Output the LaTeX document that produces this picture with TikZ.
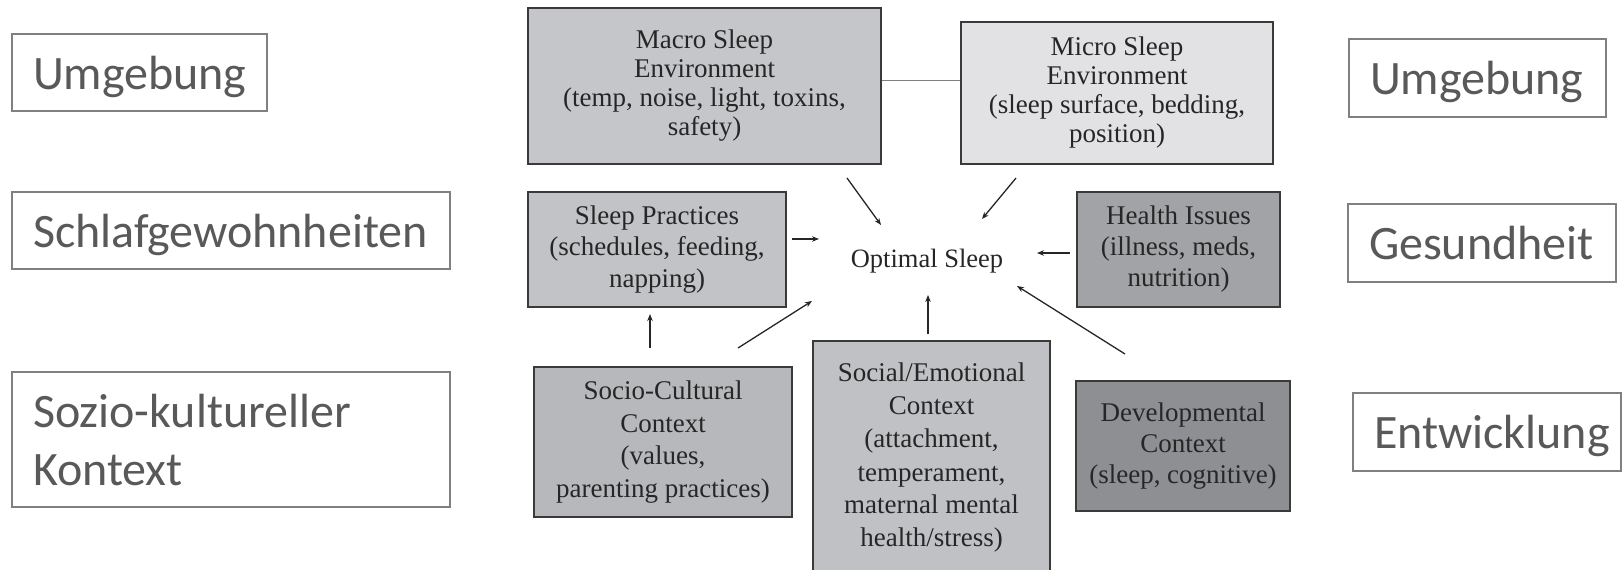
\documentclass[tikz,border=0pt]{standalone}
\usepackage{fontspec}
\setmainfont{Liberation Serif}
\newfontfamily\calib{Carlito}
\usetikzlibrary{arrows.meta}
\definecolor{macrofill}{HTML}{C5C6C9}
\definecolor{microfill}{HTML}{E2E2E4}
\definecolor{sleepfill}{HTML}{C2C3C6}
\definecolor{healthfill}{HTML}{A2A3A6}
\definecolor{sociofill}{HTML}{B7B8BB}
\definecolor{socialfill}{HTML}{C0C1C4}
\definecolor{devfill}{HTML}{8E8F92}
\definecolor{boxline}{HTML}{3A3A3A}
\definecolor{txt}{HTML}{262626}
\definecolor{labtxt}{HTML}{595959}
\definecolor{labline}{HTML}{808080}
\tikzset{
  cbox/.style={draw=boxline, line width=1.2pt, rectangle, inner sep=0pt, align=center, text=txt},
  lab/.style={draw=labline, line width=1.3pt, fill=white, rectangle, inner xsep=21pt, inner ysep=0pt,
              align=left, text=labtxt, text height=33pt, text depth=0pt,
              font=\calib\fontsize{48}{58}\selectfont},
  arr/.style={draw=txt, line width=1.3pt, -{Stealth[length=7pt,width=5.5pt]}},
  link/.style={draw=gray, line width=1pt}
}
\begin{document}
\begin{tikzpicture}[x=1pt,y=-1pt]
\useasboundingbox (0,0) rectangle (1622,570);
% label boxes left
\node[lab, minimum width=255pt, minimum height=77pt, text width=213pt] (l1) at (139.5,72.5) {Umgebung};
\node[lab, minimum width=438pt, minimum height=77pt, text width=396pt] (l2) at (231,230.5) {Schlafgewohnheiten};
\node[lab, minimum width=438pt, minimum height=135pt, text width=396pt, text depth=58pt] (l3) at (231,439.5) {Sozio-kultureller\\Kontext};
% label boxes right
\node[lab, minimum width=257pt, minimum height=78pt, text width=215pt] (r1) at (1477.5,78) {Umgebung};
\node[lab, minimum width=268pt, minimum height=78pt, text width=226pt] (r2) at (1482,243) {Gesundheit};
\node[lab, minimum width=268pt, minimum height=78pt, text width=226pt] (r3) at (1487,432) {Entwicklung};
% centre boxes
\node[cbox, fill=macrofill, minimum width=353pt, minimum height=156pt, font=\fontsize{27}{29}\selectfont] (macro) at (704.5,86)
  {Macro Sleep\\Environment\\(temp, noise, light, toxins,\\safety)};
\node[cbox, fill=microfill, minimum width=312pt, minimum height=142pt, font=\fontsize{27}{29}\selectfont] (micro) at (1117,93)
  {Micro Sleep\\Environment\\(sleep surface, bedding,\\position)};
\node[cbox, fill=sleepfill, minimum width=258pt, minimum height=115pt, font=\fontsize{27}{31.5}\selectfont] (sleep) at (657,249.5)
  {Sleep Practices\\(schedules, feeding,\\napping)};
\node[cbox, fill=healthfill, minimum width=203pt, minimum height=115pt, font=\fontsize{27}{31}\selectfont] (health) at (1178.5,249.5)
  {Health Issues\\(illness, meds,\\nutrition)};
\node[cbox, fill=sociofill, minimum width=258pt, minimum height=150pt, font=\fontsize{27}{32.5}\selectfont] (socio) at (663,442)
  {Socio-Cultural\\Context\\(values,\\parenting practices)};
\node[cbox, fill=socialfill, minimum width=237pt, minimum height=234pt, font=\fontsize{27}{33}\selectfont] (social) at (931.5,458)
  {Social/Emotional\\Context\\(attachment,\\temperament,\\maternal mental\\health/stress)};
\node[cbox, fill=devfill, minimum width=214pt, minimum height=130pt, font=\fontsize{27}{31}\selectfont] (dev) at (1183,446)
  {Developmental\\Context\\(sleep, cognitive)};
\node[text=txt, font=\fontsize{26.5}{30}\selectfont, anchor=base] (opt) at (927,267) {Optimal Sleep};
% link between macro and micro
\draw[link] (macro.east |- 0,80) -- (micro.west |- 0,80);
% arrow end points
\coordinate (a1s) at (847,178); \coordinate (a1e) at (881,225);
\coordinate (a2s) at (1016,178); \coordinate (a2e) at (982,219);
\coordinate (a3s) at (792,239); \coordinate (a3e) at (819,239);
\coordinate (a4s) at (1070,253); \coordinate (a4e) at (1037,253);
\coordinate (a5s) at (738,348); \coordinate (a5e) at (812,301);
\coordinate (a6s) at (650,348); \coordinate (a6e) at (650,314);
\coordinate (a7s) at (928,334); \coordinate (a7e) at (928,295);
\coordinate (a8s) at (1125,354); \coordinate (a8e) at (1017,286);
\draw[arr] (a1s) -- (a1e);
\draw[arr] (a2s) -- (a2e);
\draw[arr] (a3s) -- (a3e);
\draw[arr] (a4s) -- (a4e);
\draw[arr] (a5s) -- (a5e);
\draw[arr] (a6s) -- (a6e);
\draw[arr] (a7s) -- (a7e);
\draw[arr] (a8s) -- (a8e);
\end{tikzpicture}
\end{document}
